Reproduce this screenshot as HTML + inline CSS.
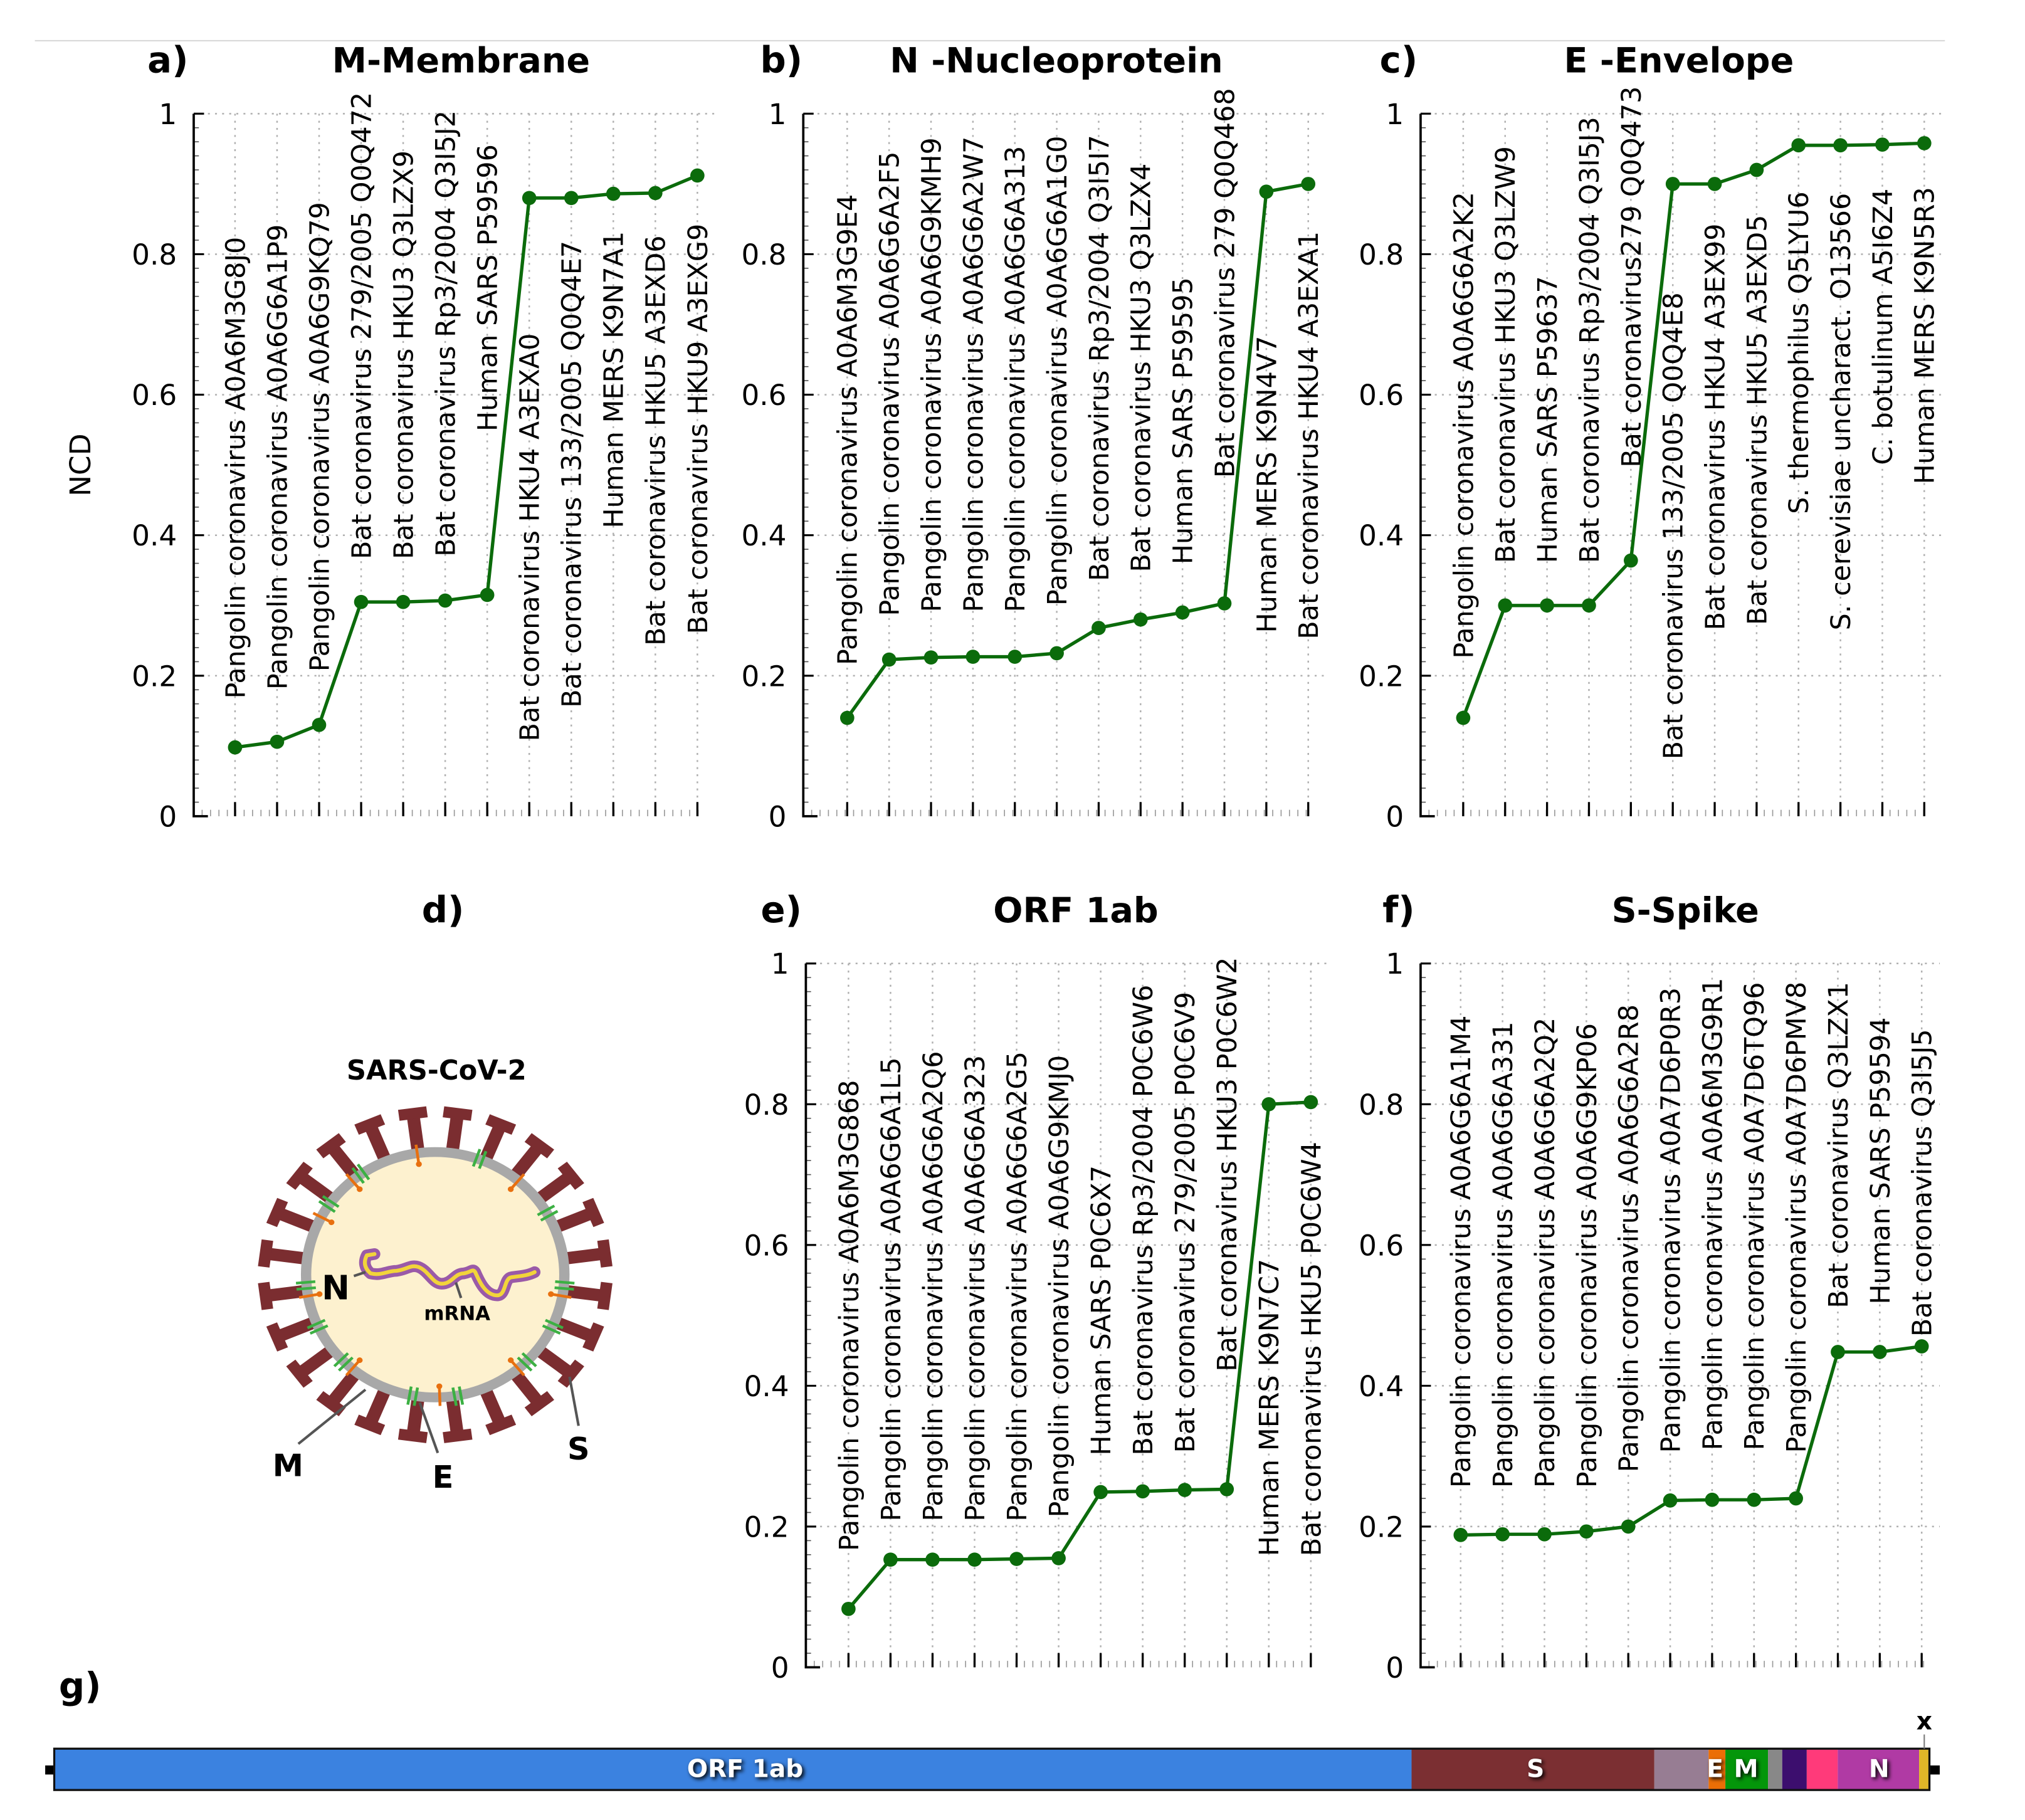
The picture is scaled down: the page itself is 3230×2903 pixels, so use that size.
<!DOCTYPE html>
<html><head><meta charset="utf-8">
<style>
html,body{margin:0;padding:0;background:#fff;}
svg{display:block;font-family:"DejaVu Sans","Liberation Sans",sans-serif;}
</style></head>
<body>
<svg id="fig" xmlns="http://www.w3.org/2000/svg" width="3230" height="2903" viewBox="0 0 1568 1409.2">
<defs>
<filter id="sh" x="-50%" y="-50%" width="200%" height="200%"><feGaussianBlur stdDeviation="1.6"/></filter>
</defs>
<rect x="0" y="0" width="1568" height="1409.2" fill="#fff"/>
<line x1="27" y1="31.5" x2="1506" y2="31.5" stroke="#d8d8d8" stroke-width="1"/>
<g id="charts"></g>
<g id="virus"></g>
<g id="genome"></g>
</svg>
<script>
// ---- chart data ----
const catsA = ["Pangolin coronavirus A0A6M3G8J0","Pangolin coronavirus A0A6G6A1P9","Pangolin coronavirus A0A6G9KQ79","Bat coronavirus 279/2005 Q0Q472","Bat coronavirus HKU3 Q3LZX9","Bat coronavirus Rp3/2004 Q3I5J2","Human SARS P59596","Bat coronavirus HKU4 A3EXA0","Bat coronavirus 133/2005 Q0Q4E7","Human MERS K9N7A1","Bat coronavirus HKU5 A3EXD6","Bat coronavirus HKU9 A3EXG9"];
const valsA = [0.098,0.106,0.130,0.305,0.305,0.307,0.315,0.880,0.880,0.886,0.887,0.912];
const catsB = ["Pangolin coronavirus A0A6M3G9E4","Pangolin coronavirus A0A6G6A2F5","Pangolin coronavirus A0A6G9KMH9","Pangolin coronavirus A0A6G6A2W7","Pangolin coronavirus A0A6G6A313","Pangolin coronavirus A0A6G6A1G0","Bat coronavirus Rp3/2004 Q3I5I7","Bat coronavirus HKU3 Q3LZX4","Human SARS P59595","Bat coronavirus 279 Q0Q468","Human MERS K9N4V7","Bat coronavirus HKU4 A3EXA1"];
const valsB = [0.140,0.223,0.226,0.227,0.227,0.232,0.268,0.280,0.290,0.303,0.889,0.900];
const catsC = ["Pangolin coronavirus A0A6G6A2K2","Bat coronavirus HKU3 Q3LZW9","Human SARS P59637","Bat coronavirus Rp3/2004 Q3I5J3","Bat coronavirus279 Q0Q473","Bat coronavirus 133/2005 Q0Q4E8","Bat coronavirus HKU4 A3EX99","Bat coronavirus HKU5 A3EXD5","S. thermophilus Q5LYU6","S. cerevisiae uncharact. O13566","C. botulinum A5I6Z4","Human MERS K9N5R3"];
const valsC = [0.140,0.300,0.300,0.300,0.364,0.900,0.900,0.920,0.955,0.955,0.956,0.958];
const catsE = ["Pangolin coronavirus A0A6M3G868","Pangolin coronavirus A0A6G6A1L5","Pangolin coronavirus A0A6G6A2Q6","Pangolin coronavirus A0A6G6A323","Pangolin coronavirus A0A6G6A2G5","Pangolin coronavirus A0A6G9KMJ0","Human SARS P0C6X7","Bat coronavirus Rp3/2004 P0C6W6","Bat coronavirus 279/2005 P0C6V9","Bat coronavirus HKU3 P0C6W2","Human MERS K9N7C7","Bat coronavirus HKU5 P0C6W4"];
const valsE = [0.083,0.153,0.153,0.153,0.154,0.155,0.249,0.250,0.252,0.253,0.800,0.803];
const catsF = ["Pangolin coronavirus A0A6G6A1M4","Pangolin coronavirus A0A6G6A331","Pangolin coronavirus A0A6G6A2Q2","Pangolin coronavirus A0A6G9KP06","Pangolin coronavirus A0A6G6A2R8","Pangolin coronavirus A0A7D6P0R3","Pangolin coronavirus A0A6M3G9R1","Pangolin coronavirus A0A7D6TQ96","Pangolin coronavirus A0A7D6PMV8","Bat coronavirus Q3LZX1","Human SARS P59594","Bat coronavirus Q3I5J5"];
const valsF = [0.188,0.189,0.189,0.193,0.200,0.237,0.238,0.238,0.240,0.448,0.448,0.456];
const yTicks = [0,0.2,0.4,0.6,0.8,1];
const yTickLabels = ["0","0.2","0.4","0.6","0.8","1"];
// label layout (pixel bottom of each rotated label; layout only)
const labA = [541,534,520,433,433,431,334,574,548,409,500,491];
const labB = [515,477,474,474,474,469,450,443,437,370,490,495];
const labC = [510,436,436,436,362,588,488,484,398,488,360,375];
const labE = [1201,1178,1178,1178,1178,1175,1127,1127,1125,1062,1205,1205];
const labF = [1152,1152,1152,1152,1140,1125,1123,1123,1125,1013,1010,1035];

const NS = "http://www.w3.org/2000/svg";
function mk(tag, attrs, parent){ const e=document.createElementNS(NS,tag); for(const k in attrs) e.setAttribute(k,attrs[k]); if(parent) parent.appendChild(e); return e; }

const panels = [
 {key:'a', letter:'a)', title:'M-Membrane', cats:catsA, vals:valsA, lab:labA, ax:150, x0:182, x1:540, yTop:88, yBot:632, letX:130, titleX:357, titleY:56, ylab:true},
 {key:'b', letter:'b)', title:'N -Nucleoprotein', cats:catsB, vals:valsB, lab:labB, ax:622, x0:656, x1:1013, yTop:88, yBot:632, letX:605, titleX:818, titleY:56},
 {key:'c', letter:'c)', title:'E -Envelope', cats:catsC, vals:valsC, lab:labC, ax:1100, x0:1133, x1:1490, yTop:88, yBot:632, letX:1083, titleX:1300, titleY:56},
 {key:'e', letter:'e)', title:'ORF 1ab', cats:catsE, vals:valsE, lab:labE, ax:624, x0:657, x1:1015, yTop:746, yBot:1291, letX:605, titleX:833, titleY:714},
 {key:'f', letter:'f)', title:'S-Spike', cats:catsF, vals:valsF, lab:labF, ax:1100, x0:1131, x1:1488, yTop:746, yBot:1291, letX:1083, titleX:1305, titleY:714}
];
const charts = document.getElementById('charts');
panels.forEach(p=>{
  const g = mk('g',{},charts);
  
  
  const n = p.cats.length;
  const xs = i => p.x0 + (p.x1-p.x0)*i/(n-1);
  const ys = v => p.yBot - (p.yBot-p.yTop)*v;
  const xEnd = p.x1 + 14;
  const lt = mk('text',{x:p.letX,y:p.titleY,'text-anchor':'middle','font-size':28,'font-weight':'bold'},g);
  lt.textContent = p.letter;
  
  
  const tt = mk('text',{x:p.titleX,y:p.titleY,'text-anchor':'middle','font-size':27,'font-weight':'bold'},g);
  tt.textContent = p.title;
  
  
  yTicks.forEach((t,i)=>{
    const y = ys(t);
    if(t>0){
      const gl = mk('line',{x1:p.ax,y1:y,x2:xEnd,y2:y,stroke:'#b0b0b0','stroke-width':1.2,'stroke-dasharray':'1.5 4'},g);
      
      
    }
    mk('line',{x1:p.ax,y1:y,x2:p.ax+8,y2:y,stroke:'#000','stroke-width':1.5},g);
    const tl = mk('text',{x:p.ax-13,y:y+8,'text-anchor':'end','font-size':22},g);
    tl.textContent = yTickLabels[i];
    
    
  });
  for(let k=1;k<50;k++){ if(k%10===0) continue; const y=ys(k/50); mk('line',{x1:p.ax,y1:y,x2:p.ax+4,y2:y,stroke:'#555','stroke-width':0.8},g); }
  const step=(p.x1-p.x0)/(n-1)/5;
  for(let x=p.ax+step;x<=p.x1+2;x+=step){ mk('line',{x1:x,y1:p.yBot,x2:x,y2:p.yBot-5,stroke:'#999','stroke-width':0.8},g); }
  const axl = mk('path',{d:`M${p.ax},${p.yTop} L${p.ax},${p.yBot} L${p.ax+11},${p.yBot}`,fill:'none',stroke:'#000','stroke-width':1.8},g);
  
  
  p.cats.forEach((c,i)=>{
    const x = xs(i);
    mk('line',{x1:x,y1:p.yTop,x2:x,y2:p.yBot,stroke:'#b0b0b0','stroke-width':1.2,'stroke-dasharray':'1.5 4'},g);
    const tk = mk('line',{x1:x,y1:p.yBot,x2:x,y2:p.yBot-11,stroke:'#000','stroke-width':1.6},g);
    
    
    const yb = p.lab[i];
    const t = mk('text',{x:x,y:yb,'font-size':20.8,transform:`rotate(-90 ${x} ${yb})`,dy:'0.36em'},g);
    t.textContent = c;
    
    
  });
  let d='';
  p.vals.forEach((v,i)=>{ d += (i?'L':'M')+xs(i).toFixed(2)+','+ys(v).toFixed(2); });
  const ln = mk('path',{d:d,fill:'none',stroke:'#0b6b0b','stroke-width':2.6,'stroke-linejoin':'round'},g);
  
  
  p.vals.forEach((v,i)=>{
    const pt = mk('circle',{cx:xs(i),cy:ys(v),r:5.5,fill:'#0b6b0b'},g);
    
    
  });
  if(p.ylab){
    const yl = mk('text',{x:70,y:360,'text-anchor':'middle','font-size':22,transform:'rotate(-90 70 360)'},g);
    yl.textContent='NCD';
    
    
  }
});
(function(){
  const d = mk('text',{x:343,y:714,'text-anchor':'middle','font-size':28,'font-weight':'bold'},charts);
  d.textContent='d)';
  
  
  const gg = mk('text',{x:62,y:1315,'text-anchor':'middle','font-size':28,'font-weight':'bold'},charts);
  gg.textContent='g)';
  
  
})();

// ---- virus diagram ----
(function(){
  const V = document.getElementById('virus');
  const cx=337, cy=987;
  const t = mk('text',{x:338,y:836,'text-anchor':'middle','font-size':21,'font-weight':'bold'},V);
  t.textContent='SARS-CoV-2';
  
  
  const inner = mk('g',{transform:`translate(${cx},${cy}) scale(1,0.95)`},V);
  for(let k=0;k<24;k++){
    const a = 7.5 + k*15;
    const s = mk('g',{transform:`rotate(${a})`},inner);
    
    
    mk('rect',{x:-5,y:-130,width:10,height:28,fill:'#7b2d30'},s);
    mk('rect',{x:-11,y:-137,width:22,height:9,fill:'#7b2d30'},s);
  }
  mk('circle',{cx:0,cy:0,r:100,fill:'#fdf1cf',stroke:'#a8a8a8','stroke-width':8},inner);
  [20,-55,60,95,-95,-35,135,-135,170,-170,115,-115].forEach(a=>{
    const m = mk('g',{transform:`rotate(${a})`},inner);
    
    
    mk('line',{x1:-2.5,y1:-108,x2:-2.5,y2:-93,stroke:'#3cb043','stroke-width':2.2},m);
    mk('line',{x1:2.5,y1:-108,x2:2.5,y2:-93,stroke:'#3cb043','stroke-width':2.2},m);
  });
  [-8,-40,40,-62,100,-100,140,-140,178].forEach(a=>{
    const e = mk('g',{transform:`rotate(${a})`},inner);
    
    
    mk('line',{x1:0,y1:-107,x2:0,y2:-92,stroke:'#e8700f','stroke-width':2.2},e);
    mk('circle',{cx:0,cy:-91,r:2.3,fill:'#e8700f'},e);
  });
  const rd='M290,971 L284,972 Q280,980 287,986 C295,988 300,984 307,984 C315,983 318,979 324,981 C332,984 335,994 342,994 C350,994 352,986 359,986 C365,985 366,982 368,985 C371,992 376,1003 385,1003 C392,1003 390,990 396,989 C402,988 408,988 414,985';
  const r1 = mk('path',{d:rd,fill:'none',stroke:'#9a5aa8','stroke-width':9,'stroke-linecap':'round','stroke-linejoin':'round'},V);
  
  
  const r2 = mk('path',{d:rd,fill:'none',stroke:'#f2d43a','stroke-width':3,'stroke-linecap':'round','stroke-linejoin':'round'},V);
  
  
  [[274,988,283,985],[357,1005,353,993],[231,1118,283,1076],[339,1125,325,1086],[448,1104,441,1066]].forEach(l=>{
    mk('line',{x1:l[0],y1:l[1],x2:l[2],y2:l[3],stroke:'#555','stroke-width':2},V);
  });
  [['N',260,1006,26],['mRNA',354,1022,15],['M',223,1143,24],['E',343,1152,24],['S',448,1130,24]].forEach(l=>{
    const tx = mk('text',{x:l[1],y:l[2],'text-anchor':'middle','font-size':l[3],'font-weight':'bold'},V);
    tx.textContent = l[0];
    
    
  });
})();

// ---- genome map ----
(function(){
  const G = document.getElementById('genome');
  const top=1354, bot=1386;
  const segs = [[42,1093,'#3b82e0'],[1093,1281,'#7b2f32'],[1281,1323,'#977d93'],[1323,1336,'#eb6e06'],[1336,1369,'#04960a'],[1369,1380,'#888888'],[1380,1399,'#3c0e6e'],[1399,1423,'#ff3a7a'],[1423,1486,'#b03aa4'],[1486,1494,'#e0b628']];
  mk('rect',{x:35,y:1367,width:8,height:7,fill:'#000'},G);
  mk('rect',{x:1493,y:1367,width:9,height:7,fill:'#000'},G);
  segs.forEach(s=>{
    const r = mk('rect',{x:s[0],y:top,width:s[1]-s[0],height:bot-top,fill:s[2]},G);
    
    
  });
  mk('rect',{x:42,y:top,width:1452,height:bot-top,fill:'none',stroke:'#111','stroke-width':1.6},G);
  mk('line',{x1:1490,y1:1343,x2:1490,y2:top,stroke:'#777','stroke-width':1},G);
  const x = mk('text',{x:1490,y:1339,'text-anchor':'middle','font-size':19,'font-weight':'bold'},G);
  x.textContent='x';
  
  
  [['ORF 1ab',577],['S',1189],['E',1328],['M',1352],['N',1455]].forEach(l=>{
    const s = mk('text',{x:l[1]+1.5,y:1377.5,'text-anchor':'middle','font-size':19,'font-weight':'bold',fill:'#000',filter:'url(#sh)'},G);
    s.textContent=l[0];
    const t = mk('text',{x:l[1],y:1376,'text-anchor':'middle','font-size':19,'font-weight':'bold',fill:'#fff'},G);
    t.textContent=l[0];
    
    
  });
})();
</script>
</body></html>
